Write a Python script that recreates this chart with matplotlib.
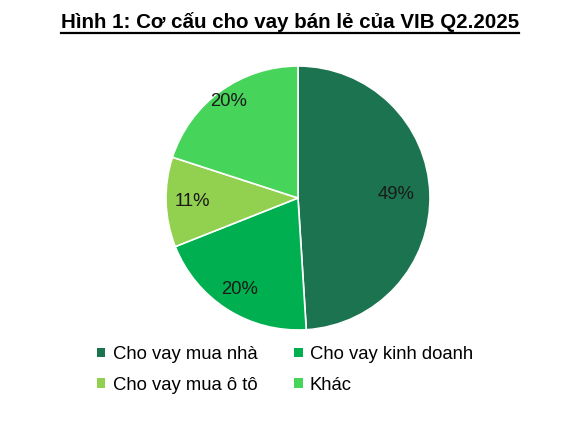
import numpy as np
import matplotlib.pyplot as plt
from matplotlib.patches import Patch

plt.rcParams['font.family'] = ['Liberation Sans', 'DejaVu Sans']

# data
labels = ['Cho vay mua nhà', 'Cho vay kinh doanh', 'Cho vay mua ô tô', 'Khác']
shares = [49, 20, 11, 20]
colors = ['#1b7350', '#00b050', '#92d050', '#47d45a']
title = 'Hình 1: Cơ cấu cho vay bán lẻ của VIB Q2.2025'

fig = plt.figure(figsize=(5.78, 4.28), dpi=100)

# pie axes: centre ~ (298,198) px, radius ~132 px
cx, cy, r = 298 / 578, 1 - 198 / 428, 132
ax = fig.add_axes([cx - r / 578, cy - r / 428, 2 * r / 578, 2 * r / 428])
wedges, texts, autotexts = ax.pie(
    shares, colors=colors, startangle=90, counterclock=False,
    autopct='%d%%', pctdistance=0.8,
    wedgeprops=dict(edgecolor='white', linewidth=1.2),
    textprops=dict(fontsize=13.3, color='#1a1a1a'))
ax.set_xlim(-1, 1)
ax.set_ylim(-1, 1)
ax.set_aspect('auto')
ax.axis('off')

# nudge label distances a bit like the excel layout
dists = [0.74, 0.82, 0.80, 0.90]
for w, at, d in zip(wedges, autotexts, dists):
    ang = np.deg2rad((w.theta1 + w.theta2) / 2)
    at.set_position((d * np.cos(ang), d * np.sin(ang)))

# title with underline
t = fig.text(290 / 578, 1 - 22 / 428, title, ha='center', va='center',
             fontsize=14.8, fontweight='bold')
fig.canvas.draw()
bb = t.get_window_extent().transformed(fig.transFigure.inverted())
fig.lines.append(plt.Line2D([bb.x0, bb.x1], [1 - 33 / 428, 1 - 33 / 428],
                            transform=fig.transFigure, color='black', linewidth=1.6))

# legend is row-major in the reference -> reorder for matplotlib column fill
order = [0, 2, 1, 3]
handles = [Patch(facecolor=colors[i], edgecolor='none') for i in order]
leg = fig.legend(handles, [labels[i] for i in order], ncol=2, loc='center',
                 frameon=False, bbox_to_anchor=(285 / 578, 1 - 370 / 428),
                 fontsize=13.3, handlelength=0.45, handleheight=0.45,
                 handletextpad=0.4, columnspacing=2.0, labelspacing=0.75)

fig.savefig('out.png', dpi=100)
